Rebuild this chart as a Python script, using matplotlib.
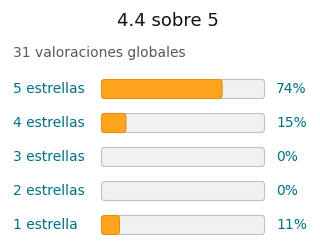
import matplotlib.pyplot as plt
from matplotlib.patches import FancyBboxPatch

# Daten
titel = "4.4 sobre 5"
untertitel = "31 valoraciones globales"
kategorien = ["5 estrellas", "4 estrellas", "3 estrellas", "2 estrellas", "1 estrella"]
prozente = [74, 15, 0, 0, 11]

fig = plt.figure(figsize=(3.2, 2.52), dpi=100)
ax = fig.add_axes([0, 0, 1, 1])
ax.set_xlim(0, 320)
ax.set_ylim(252, 0)
ax.axis('off')

# Layout in Pixel
bar_x0 = 101.5
bar_w = 163
bar_h = 19
y_start = 89
y_step = 34

ax.text(168, 21, titel, ha='center', va='center', fontsize=13, color='#111111')
ax.text(13, 53, untertitel, ha='left', va='center', fontsize=10, color='#565959')

for i, (kat, p) in enumerate(zip(kategorien, prozente)):
    yc = y_start + i * y_step
    hintergrund = FancyBboxPatch((bar_x0, yc - bar_h / 2), bar_w, bar_h,
                                 boxstyle="round,pad=0,rounding_size=3",
                                 facecolor='#F0F2F2', edgecolor='#C0C0C0', linewidth=0.8)
    ax.add_patch(hintergrund)
    if p > 0:
        fuell = FancyBboxPatch((bar_x0, yc - bar_h / 2), bar_w * p / 100, bar_h,
                               boxstyle="round,pad=0,rounding_size=3",
                               facecolor='#FFA41C', edgecolor='#E3901A', linewidth=0.8)
        ax.add_patch(fuell)
    ax.text(13, yc, kat, ha='left', va='center', fontsize=10, color='#007185')
    ax.text(276, yc, f"{p}%", ha='left', va='center', fontsize=10, color='#007185')

fig.savefig("out.png", dpi=100)
